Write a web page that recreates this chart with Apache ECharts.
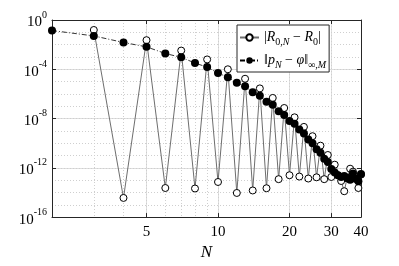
<!DOCTYPE html>
<html><head><meta charset="utf-8">
<script src="https://cdn.jsdelivr.net/npm/echarts@6/dist/echarts.min.js"></script>
<style>html,body{margin:0;padding:0;background:#fff}#c{width:399px;height:266px}</style>
</head><body><div id="c"></div>
<script>
// N values and errors
const nFilled = [2,3,4,5,6,7,8,9,10,11,12,13,14,15,16,17,18,19,20,21,22,23,24,25,26,27,28,29,30,31,32,33,34,35,36,37,38,39,40];
const pErr = [1.4e-1,5.1e-2,1.5e-2,6.6e-3,1.9e-3,9.3e-4,3.2e-4,1.5e-4,4.9e-5,2.3e-5,8.1e-6,4.1e-6,1.35e-6,7.1e-7,2.3e-7,1.35e-7,3.9e-8,1.9e-8,6.2e-9,3.7e-9,1.3e-9,6.2e-10,2.0e-10,1.0e-10,3.2e-11,1.7e-11,5.5e-12,3.0e-12,7.9e-13,4.1e-13,2.5e-13,1.8e-13,2.2e-13,1.4e-13,1.1e-13,3.5e-13,1.3e-13,8e-14,3.2e-13];
const nOpen = [3,4,5,6,7,8,9,10,11,12,13,14,15,16,17,18,19,20,21,22,23,24,25,26,27,28,29,30,31,32,33,34,35,36,37,38,39,40];
const rErr = [1.55e-1,3.6e-15,2.3e-2,2.3e-14,3.3e-3,2.1e-14,6.3e-4,7.1e-14,1.0e-4,9.1e-15,1.7e-5,1.45e-14,2.8e-6,2.2e-14,4.7e-7,1.2e-13,7.2e-8,2.5e-13,1.26e-8,1.95e-13,2.1e-9,1.35e-13,3.7e-10,1.7e-13,6.3e-11,1.2e-13,1.1e-11,1.8e-13,1.8e-12,2.5e-13,8.5e-14,1.26e-14,1.6e-13,8.5e-13,4.9e-13,1.3e-13,2.3e-14,2.8e-13];
const xTicks = [5,10,20,30,40];
const xMinor = [2,3,4,5,6,7,8,9,10,20,30,40];
const yTicks = [1e-16,1e-12,1e-8,1e-4,1];
const yMinor = [1e-16,1e-15,1e-14,1e-13,1e-12,1e-11,1e-10,1e-9,1e-8,1e-7,1e-6,1e-5,1e-4,1e-3,1e-2,1e-1,1];
const seriesNames = ['R', 'P'];

const FONT = '"Liberation Serif", "DejaVu Serif", serif';
const AX = '#262626';
const chart = echarts.init(document.getElementById('c'), null, {renderer: 'canvas'});

function expLabel(v) {
  const e = Math.round(Math.log10(v));
  return '{b|10}{s|' + (e < 0 ? '-' + (-e) : e) + '}';
}
const xBase = {type: 'log', logBase: 10, min: 2, max: 40, gridIndex: 0};
const yBase = {type: 'log', logBase: 10, min: 1e-16, max: 1, gridIndex: 0};

chart.setOption({
  animation: false,
  backgroundColor: '#fff',
  grid: {left: 52, right: 38, top: 20, bottom: 48, containLabel: false},
  xAxis: [
    Object.assign({}, xBase, {
      position: 'bottom',
      name: 'N', nameLocation: 'middle', nameGap: 25,
      nameTextStyle: {fontFamily: FONT, fontStyle: 'italic', fontSize: 17, color: '#000'},
      axisLine: {show: true, lineStyle: {color: AX, width: 1}},
      axisTick: {show: true, inside: true, length: 4, customValues: xTicks, lineStyle: {color: AX}},
      axisLabel: {customValues: xTicks, fontFamily: FONT, fontSize: 15, color: '#000', margin: 7, formatter: v => String(Math.round(v))},
      splitLine: {show: true, lineStyle: {color: '#dedede', width: 1}}
    }),
    Object.assign({}, xBase, {
      position: 'top',
      axisLine: {show: true, onZero: false, lineStyle: {color: AX, width: 1}},
      axisTick: {show: true, inside: true, length: 4, customValues: xTicks, lineStyle: {color: AX}},
      axisLabel: {show: false},
      splitLine: {show: false}
    }),
    Object.assign({}, xBase, {
      position: 'bottom',
      axisLine: {show: false},
      axisTick: {show: false, customValues: xMinor},
      axisLabel: {show: false},
      splitLine: {show: true, lineStyle: {color: '#cfcfcf', width: 1, type: [1, 2]}}
    })
  ],
  yAxis: [
    Object.assign({}, yBase, {
      position: 'left',
      axisLine: {show: true, onZero: false, lineStyle: {color: AX, width: 1}},
      axisTick: {show: true, inside: true, length: 4, customValues: yTicks, lineStyle: {color: AX}},
      axisLabel: {customValues: yTicks, margin: 5, formatter: expLabel,
        rich: {
          b: {fontFamily: FONT, fontSize: 15, color: '#000', lineHeight: 20, verticalAlign: 'bottom'},
          s: {fontFamily: FONT, fontSize: 10, color: '#000', lineHeight: 20, verticalAlign: 'top'}
        }},
      splitLine: {show: true, lineStyle: {color: '#dedede', width: 1}}
    }),
    Object.assign({}, yBase, {
      position: 'right',
      axisLine: {show: true, onZero: false, lineStyle: {color: AX, width: 1}},
      axisTick: {show: true, inside: true, length: 4, customValues: yTicks, lineStyle: {color: AX}},
      axisLabel: {show: false},
      splitLine: {show: false}
    }),
    Object.assign({}, yBase, {
      position: 'left',
      axisLine: {show: false},
      axisTick: {show: false, customValues: yMinor},
      axisLabel: {show: false},
      splitLine: {show: true, lineStyle: {color: '#cfcfcf', width: 1, type: [1, 2]}}
    })
  ],
  legend: {
    orient: 'vertical', left: 237, top: 25,
    padding: [3, 3, 2, 2], itemGap: 4, itemWidth: 19, itemHeight: 8,
    backgroundColor: '#fff', borderColor: AX, borderWidth: 1, borderRadius: 0,
    data: seriesNames,
    formatter: function (name) {
      if (name === 'R') return '{m||}{i|R}{sb|0,}{si|N}{m| − }{i|R}{sb|0}{m||}';
      return '{m|‖}{i|p}{si|N}{m| − }{i|φ}{m|‖}{sb|∞,}{si|M}';
    },
    textStyle: {
      rich: {
        m: {fontFamily: FONT, fontSize: 14, color: '#000', lineHeight: 19, verticalAlign: 'top', padding: [2,0,0,0]},
        i: {fontFamily: FONT, fontSize: 14, fontStyle: 'italic', color: '#000', lineHeight: 19, verticalAlign: 'top', padding: [2,0,0,0]},
        sb: {fontFamily: FONT, fontSize: 10, color: '#000', lineHeight: 19, verticalAlign: 'bottom'},
        si: {fontFamily: FONT, fontSize: 10, fontStyle: 'italic', color: '#000', lineHeight: 19, verticalAlign: 'bottom'}
      }
    }
  },
  series: [
    {
      name: 'R', type: 'line', xAxisIndex: 0, yAxisIndex: 0,
      data: nOpen.map((n, i) => [n, rErr[i]]),
      symbol: 'circle', symbolSize: 7, showAllSymbol: true,
      lineStyle: {color: '#6e6e6e', width: 1},
      itemStyle: {color: '#fff', borderColor: '#000', borderWidth: 1}
    },
    {
      name: 'P', type: 'line', xAxisIndex: 0, yAxisIndex: 0,
      data: nFilled.map((n, i) => [n, pErr[i]]),
      symbol: 'circle', symbolSize: 8, showAllSymbol: true,
      lineStyle: {color: '#000', width: 0.8, type: [5, 2, 1, 2]},
      itemStyle: {color: '#000', borderColor: '#000', borderWidth: 0}
    }
  ]
});
</script></body></html>
